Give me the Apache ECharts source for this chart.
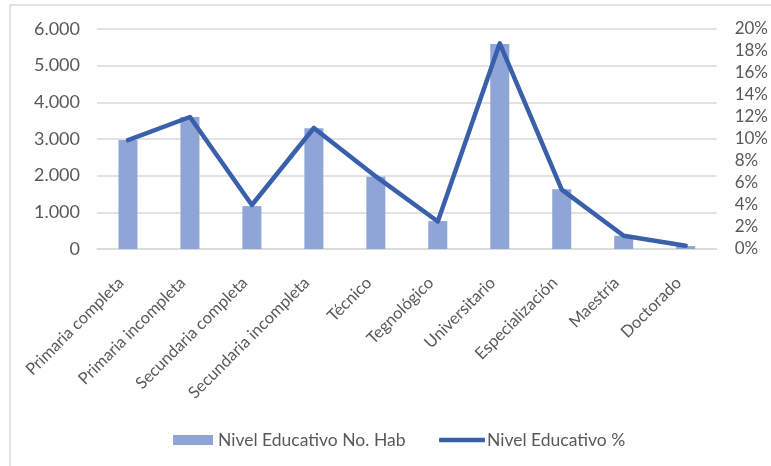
<!DOCTYPE html>
<html>
<head>
<meta charset="utf-8">
<script src="https://cdn.jsdelivr.net/npm/echarts@6/dist/echarts.min.js"></script>
<style>
  html, body { margin: 0; padding: 0; background: #fff; }
  #main { width: 771px; height: 466px; }
</style>
</head>
<body>
<div id="main"></div>
<script>
// categories and values
const categories = [
  "Primaria completa", "Primaria incompleta", "Secundaria completa",
  "Secundaria incompleta", "Técnico", "Tegnológico", "Universitario",
  "Especialización", "Maestría", "Doctorado"
];
const habitantes = [2970, 3600, 1170, 3290, 1970, 760, 5590, 1630, 360, 80];
const porcentaje = [9.9, 12.0, 4.0, 11.0, 6.6, 2.5, 18.7, 5.4, 1.2, 0.3];

const barName = "Nivel Educativo No. Hab";
const lineName = "Nivel Educativo %";

const font = 'Lato, "Liberation Sans", sans-serif';
const grey = "#595959";

const chart = echarts.init(document.getElementById("main"));

chart.setOption({
  animation: false,
  textStyle: { fontFamily: font },
  graphic: [{
    type: "rect",
    shape: { x: 10, y: 5, width: 800, height: 500 },
    style: { fill: "none", stroke: "#d9d9d9", lineWidth: 1.5 },
    silent: true
  }],
  grid: { left: 97, right: 54, top: 29, bottom: 217 },
  legend: [
    {
      data: [{ name: barName, icon: "rect" }],
      left: 168, top: 426,
      itemWidth: 40, itemHeight: 10,
      textStyle: { color: grey, fontSize: 17.5, fontFamily: font }
    },
    {
      data: [{ name: lineName, icon: "roundRect" }],
      left: 434, top: 426,
      itemWidth: 46, itemHeight: 4.5,
      textStyle: { color: grey, fontSize: 17.5, fontFamily: font, padding: [0, 0, 0, -3] }
    }
  ],
  xAxis: {
    type: "category",
    data: categories,
    axisLine: { show: true, lineStyle: { color: "#d9d9d9", width: 1.5 } },
    axisTick: { show: false },
    axisLabel: {
      rotate: 45, color: grey, fontSize: 16.5, margin: 24, interval: 0,
      padding: [0, 10, 0, 0]
    }
  },
  yAxis: [
    {
      type: "value",
      min: 0, max: 6000, interval: 1000,
      axisLine: { show: false },
      axisTick: { show: false },
      splitLine: { lineStyle: { color: "#d9d9d9", width: 1.5 } },
      axisLabel: {
        color: grey, fontSize: 18, margin: 17,
        formatter: v => String(v).replace(/\B(?=(\d{3})+(?!\d))/g, ".")
      }
    },
    {
      type: "value",
      min: 0, max: 20, interval: 2,
      axisLine: { show: false },
      axisTick: { show: false },
      splitLine: { show: false },
      axisLabel: { color: grey, fontSize: 17, margin: 18, formatter: "{value}%" }
    }
  ],
  series: [
    {
      name: barName,
      type: "bar",
      data: habitantes,
      barWidth: 19,
      itemStyle: { color: "#8fa5d5" }
    },
    {
      name: lineName,
      type: "line",
      yAxisIndex: 1,
      data: porcentaje,
      symbol: "none",
      lineStyle: { color: "#3a60ac", width: 4.5, cap: "round", join: "round" },
      itemStyle: { color: "#3a60ac" }
    }
  ]
});
</script>
</body>
</html>
